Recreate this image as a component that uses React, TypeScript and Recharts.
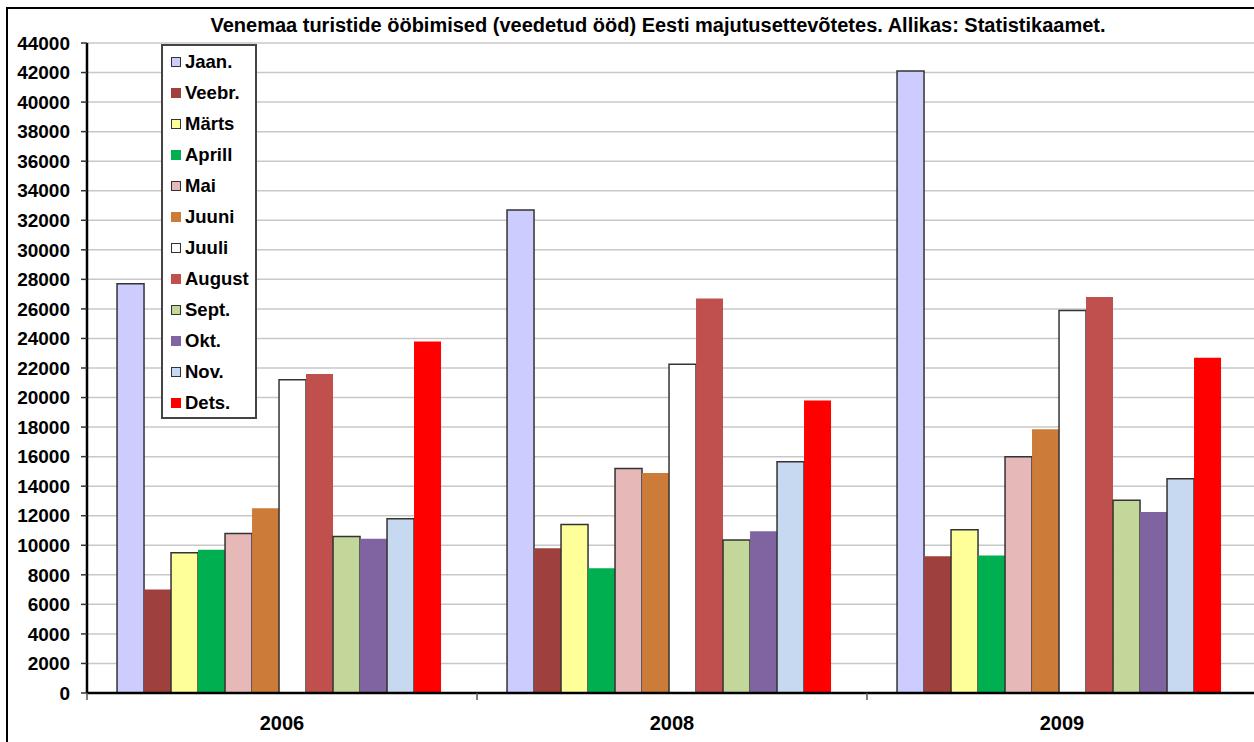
import React from 'react';
import { BarChart, Bar, XAxis, YAxis, CartesianGrid } from 'recharts';

const years = ['2006', '2008', '2009'];
const months = ['Jaan.', 'Veebr.', 'Märts', 'Aprill', 'Mai', 'Juuni', 'Juuli', 'August', 'Sept.', 'Okt.', 'Nov.', 'Dets.'];
const colors = ['#CCCCFF', '#9E413E', '#FFFF99', '#00B050', '#E6B9B8', '#CC7B38', '#FFFFFF', '#C0504D', '#C4D79B', '#8064A2', '#C6D9F1', '#FF0000'];
const outlined = [true, false, true, false, true, false, true, false, true, false, true, false];

// values per year: 2006, 2008, 2009
const jaan = [27700, 32700, 42100];
const veebr = [7000, 9800, 9250];
const marts = [9500, 11400, 11050];
const aprill = [9700, 8450, 9300];
const mai = [10800, 15200, 16000];
const juuni = [12500, 14900, 17850];
const juuli = [21200, 22250, 25900];
const august = [21600, 26700, 26800];
const sept = [10600, 10350, 13050];
const okt = [10450, 10950, 12250];
const nov = [11800, 15650, 14500];
const dets = [23800, 19800, 22700];

const series = [jaan, veebr, marts, aprill, mai, juuni, juuli, august, sept, okt, nov, dets];

const yTicks = [0, 2000, 4000, 6000, 8000, 10000, 12000, 14000, 16000, 18000, 20000, 22000,
  24000, 26000, 28000, 30000, 32000, 34000, 36000, 38000, 40000, 42000, 44000];

const data = years.map((year, i) => {
  const row: Record<string, string | number> = { year };
  series.forEach((s, k) => { row['m' + k] = s[i]; });
  return row;
});

const FONT = '"Liberation Sans", Arial, sans-serif';

const YearTick = (props: any) => {
  const { x, y, payload, index, visibleTicksCount } = props;
  const half = payload.offset ?? 195;
  return (
    <g>
      <line x1={x - half} x2={x - half} y1={y} y2={y + 7} stroke="#555" strokeWidth={1.5} />
      {index === visibleTicksCount - 1 && (
        <line x1={x + half} x2={x + half} y1={y} y2={y + 7} stroke="#555" strokeWidth={1.5} />
      )}
      <text x={x} y={y + 37} textAnchor="middle" fontFamily={FONT} fontWeight="bold" fontSize={20} fill="#000">
        {payload.value}
      </text>
    </g>
  );
};

const App = () => {
  return (
    <div style={{ position: 'absolute', left: 0, top: 0, width: 1254, height: 742, overflow: 'hidden', background: '#fff', fontFamily: FONT }}>
      <div style={{ position: 'absolute', left: 6, top: 7, width: 1300, height: 800, border: '2px solid #000' }} />
      <div style={{ position: 'absolute', left: 0, top: 14, width: 1316, textAlign: 'center', fontWeight: 'bold', fontSize: 20, color: '#000' }}>
        Venemaa turistide ööbimised (veedetud ööd) Eesti majutusettevõtetes. Allikas: Statistikaamet.
      </div>
      <div style={{ position: 'absolute', left: 0, top: 0 }}>
        <BarChart
          width={1257}
          height={742}
          data={data}
          margin={{ top: 43, right: 0, left: 0, bottom: 0 }}
          barCategoryGap="7.7%"
          barGap={0}
        >
          <CartesianGrid vertical={false} stroke="#c8c8c8" strokeWidth={1.5} />
          <XAxis
            dataKey="year"
            height={49}
            tickSize={0}
            tickMargin={0}
            tickLine={false}
            axisLine={{ stroke: '#000', strokeWidth: 2.5 }}
            tick={<YearTick />}
            interval={0}
          />
          <YAxis
            width={87}
            domain={[0, 44000]}
            ticks={yTicks}
            interval={0}
            tickSize={6}
            tickMargin={11}
            axisLine={{ stroke: '#000', strokeWidth: 2.5 }}
            tickLine={{ stroke: '#333', strokeWidth: 1.5 }}
            tick={{ fontFamily: FONT, fontWeight: 'bold', fontSize: 19, fill: '#000' }}
          />
          {months.map((m, k) => (
            <Bar
              key={m}
              dataKey={'m' + k}
              name={m}
              fill={colors[k]}
              stroke={outlined[k] ? '#333' : 'none'}
              strokeWidth={outlined[k] ? 1.5 : 0}
              isAnimationActive={false}
            />
          ))}
        </BarChart>
      </div>
      <div style={{ position: 'absolute', left: 161, top: 44, width: 96, height: 375, boxSizing: 'border-box', border: '2px solid #444', background: '#fff' }}>
        {months.map((m, k) => (
          <div key={m} style={{ height: 31, display: 'flex', alignItems: 'center', paddingLeft: 8 }}>
            <span style={{
              display: 'inline-block', width: 10, height: 10, boxSizing: 'border-box',
              background: colors[k], border: outlined[k] ? '1.5px solid #333' : 'none', marginRight: 4,
            }} />
            <span style={{ fontWeight: 'bold', fontSize: 18.5, color: '#000' }}>{m}</span>
          </div>
        ))}
      </div>
    </div>
  );
};

export default App;
